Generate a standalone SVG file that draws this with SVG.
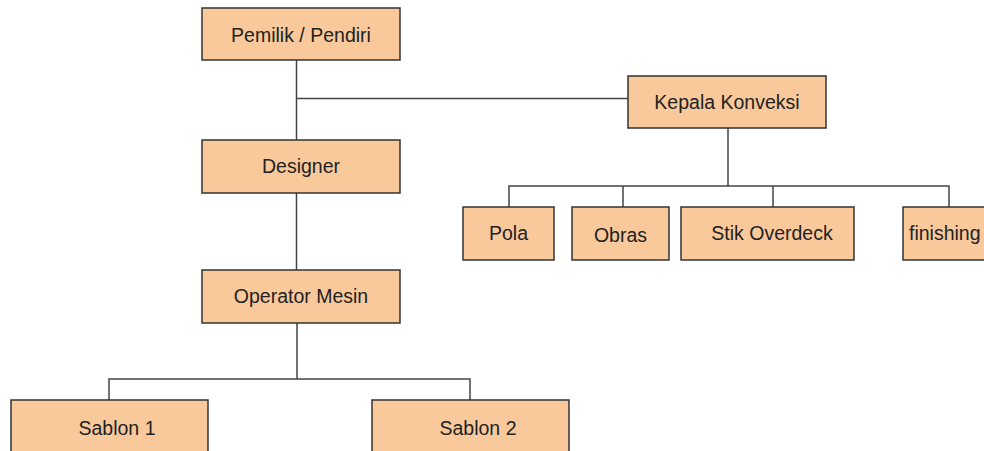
<svg xmlns="http://www.w3.org/2000/svg" width="984" height="451" viewBox="0 0 984 451">
<style>
.box{fill:#f9c99c;stroke:#333;stroke-width:1.5}
.lbl{font-family:"Liberation Sans",Arial,sans-serif;font-size:19.5px;fill:#222;text-anchor:middle}
.con{fill:none;stroke:#444;stroke-width:1.5}
</style>
<rect width="984" height="451" fill="#fff"/>
<g id="connectors">
<path class="con" d="M296.5 60 V140 M296.5 98.5 H628 M296.5 193 V270 M297 323 V379 M109 400 V379 H470 V400 M728 128 V186 M509 207 V186 H949 V207 M623 186 V207 M773 186 V207"/>
</g>
<g id="pemilik"><rect class="box" x="202" y="8" width="198" height="52"/><text class="lbl" x="301" y="41.5">Pemilik / Pendiri</text></g>
<g id="designer"><rect class="box" x="202" y="140" width="198" height="53"/><text class="lbl" x="301" y="172.5">Designer</text></g>
<g id="operator"><rect class="box" x="202" y="270" width="198" height="53"/><text class="lbl" x="301" y="302.5">Operator Mesin</text></g>
<g id="sablon1"><rect class="box" x="11" y="400" width="197" height="60"/><text class="lbl" x="117" y="434.5">Sablon 1</text></g>
<g id="sablon2"><rect class="box" x="372" y="400" width="197" height="60"/><text class="lbl" x="478" y="434.5">Sablon 2</text></g>
<g id="kepala"><rect class="box" x="628" y="76" width="198" height="52"/><text class="lbl" x="727" y="108.5">Kepala Konveksi</text></g>
<g id="pola"><rect class="box" x="463" y="207" width="91" height="53"/><text class="lbl" x="508.5" y="239.5">Pola</text></g>
<g id="obras"><rect class="box" x="572" y="207" width="97" height="53"/><text class="lbl" x="620.5" y="242">Obras</text></g>
<g id="stik"><rect class="box" x="681" y="207" width="173" height="53"/><text class="lbl" x="772" y="239.5">Stik Overdeck</text></g>
<g id="finishing"><rect class="box" x="903" y="207" width="100" height="53"/><text class="lbl" x="909" y="239.5" style="text-anchor:start">finishing</text></g>
</svg>
